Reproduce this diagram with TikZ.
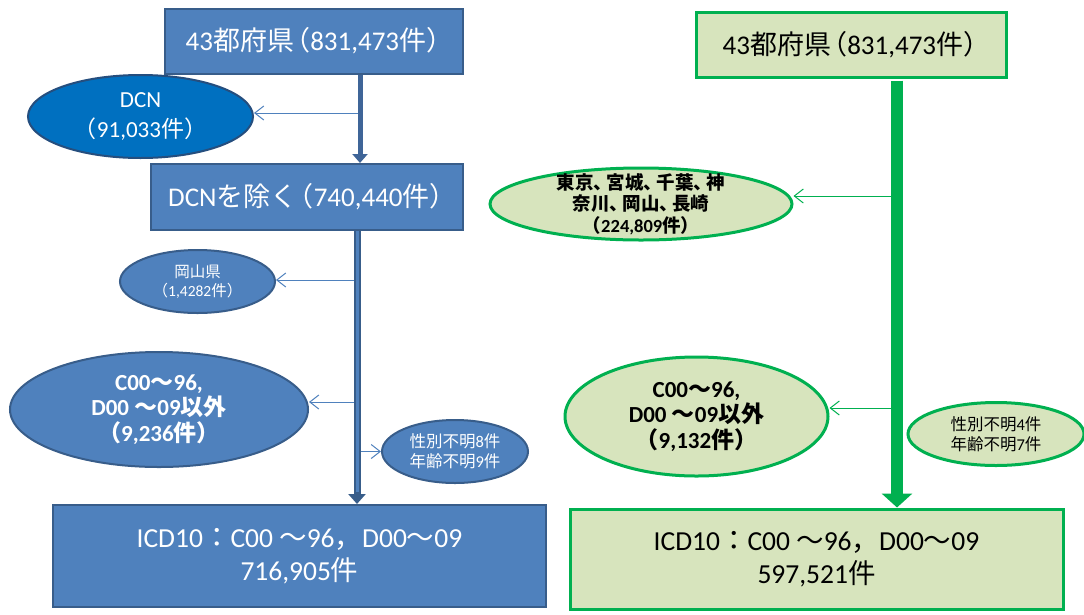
\documentclass[tikz,border=0pt]{standalone}
\usepackage{fontspec}
\setmainfont{Carlito}
\newfontfamily\cjk{Noto Sans CJK JP}
\newcommand\J[1]{{\cjk #1}}
\newcommand\lp{{\cjk\kern-.4em（}}
\newcommand\rp{{\cjk ）\kern-.4em}}
\newcommand\tn{{\cjk 、\kern-.3em}}
\usetikzlibrary{shapes.geometric,arrows.meta,calc}
\definecolor{bfill}{HTML}{4F81BD}
\definecolor{bdraw}{HTML}{385D8A}
\definecolor{dcnfill}{HTML}{0070C0}
\definecolor{dcndraw}{HTML}{254E7E}
\definecolor{gdraw}{HTML}{00B050}
\definecolor{gfill}{HTML}{D7E4BD}
\definecolor{trunkb}{HTML}{3F6598}
\begin{document}
\begin{tikzpicture}[x=1pt,y=-1pt,
 bbox/.style={draw=bdraw, fill=bfill, line width=2pt, text=white, inner sep=0pt, align=center},
 gbox/.style={draw=gdraw, fill=gfill, line width=3pt, text=black, inner sep=0pt, align=center},
 bell/.style={ellipse, draw=bdraw, fill=bfill, line width=2pt, text=white, inner sep=0pt, align=center},
 gell/.style={ellipse, draw=gdraw, fill=gfill, line width=3pt, text=black, inner sep=0pt, align=center},
 thinb/.style={draw=bfill, line width=1pt, -{Straight Barb[length=9pt,width=14pt]}},
 thing/.style={draw=gdraw, line width=1pt, -{Straight Barb[length=9pt,width=14pt]}},
 fs/.style 2 args={font=\fontsize{#1pt}{#2pt}\selectfont},
 fsb/.style 2 args={font=\fontsize{#1pt}{#2pt}\selectfont\bfseries},
]
\useasboundingbox[fill=white] (0,0) rectangle (1084,614);
% ---------- left column ----------
\node[bbox, minimum width=298pt, minimum height=65pt, fs={27}{30}] (box1) at (314,41)
  {43\J{都府県}\lp 831,473\J{件}\rp};
\node[bell, fill=dcnfill, draw=dcndraw, minimum width=225pt, minimum height=83pt, fs={23}{30}] (dcn) at (140.5,116.5)
  {DCN\\\lp 91,033\J{件}\rp};
\node[bbox, minimum width=312pt, minimum height=66pt, fs={27}{30}] (box2) at (307,197)
  {DCN\J{を除く}\lp 740,440\J{件}\rp};
\node[bell, minimum width=155pt, minimum height=63pt, fs={15.5}{19}] (oka) at (197.5,281.5)
  {\J{岡山県}\\\lp 1,4282\J{件}\rp};
\node[bell, minimum width=298pt, minimum height=115pt, fsb={23}{25.5}] (c00l) at (159,409.5)
  {C00\J{～}96,\\D00 \J{～}09\J{以外}\\\lp 9,236\J{件}\rp};
\node[bell, minimum width=146pt, minimum height=63pt, fs={16.5}{20}] (sexl) at (455,451.5)
  {\J{性別不明}8\J{件}\\\J{年齢不明}9\J{件}};
\node[bbox, minimum width=493pt, minimum height=102pt, fs={27.5}{33}] (botl) at (299.5,556)
  {ICD10\J{：}C00 \J{～}96\J{，}D00\J{～}09\\716,905\J{件}};
\coordinate (lt1) at (360,0);
\coordinate (lt2) at (357,0);
\coordinate (ya) at (0,113);
\coordinate (yb) at (0,280);
\coordinate (yc) at (0,402);
\draw[thinb] (ya -| lt1) -- (ya -| dcn.east);
\draw[thinb] (yb -| lt2) -- (yb -| oka.east);
\draw[thinb] (yc -| lt2) -- (yc -| c00l.east);
\draw[thinb] (sexl.west -| lt2) -- (sexl.west);
\draw[trunkb, line width=5pt, -{Triangle[length=9pt,width=15pt]}] (box1.south -| lt1) -- (box2.north -| lt1);
\draw[bdraw, line width=7pt, -{Triangle[length=10pt,width=17pt]}] (box2.south -| lt2) -- (botl.north -| lt2);
\draw[bfill, line width=3pt, shorten >=12pt] (box2.south -| lt2) -- (botl.north -| lt2);
% ---------- right column ----------
\node[gbox, minimum width=310pt, minimum height=65pt, fs={27}{30}] (box1r) at (851,44.5)
  {43\J{都府県}\lp 831,473\J{件}\rp};
\node[gell, minimum width=302pt, minimum height=72pt, inner ysep=-8pt, fsb={18.5}{21.5}] (tokyo) at (641,204)
  {\J{東京}\tn\J{宮城}\tn\J{千葉}\tn\J{神}\\\J{奈川}\tn\J{岡山}\tn\J{長崎}\\\lp 224,809\J{件}\rp};
\node[gell, minimum width=263pt, minimum height=119pt, fsb={23}{25.5}] (c00r) at (696.5,416.5)
  {C00\J{～}96,\\D00 \J{～}09\J{以外}\\\lp 9,132\J{件}\rp};
\node[gell, minimum width=176pt, minimum height=63pt, fs={16.5}{20}] (sexr) at (996,434)
  {\J{性別不明}4\J{件}\\\J{年齢不明}7\J{件}};
\node[gbox, minimum width=493pt, minimum height=100pt, fs={27.5}{33}] (botr) at (816.5,559)
  {ICD10\J{：}C00 \J{～}96\J{，}D00\J{～}09\\597,521\J{件}};
\coordinate (rt) at (897,0);
\coordinate (yd) at (0,196);
\coordinate (ye) at (0,408);
\draw[thing] (yd -| rt) -- (yd -| tokyo.east);
\draw[thing] (ye -| rt) -- (ye -| c00r.east);
\draw[gdraw, line width=12pt, shorten <=2pt, -{Triangle[length=14pt,width=30pt]}] (box1r.south -| rt) -- (botr.north -| rt);
\end{tikzpicture}
\end{document}
